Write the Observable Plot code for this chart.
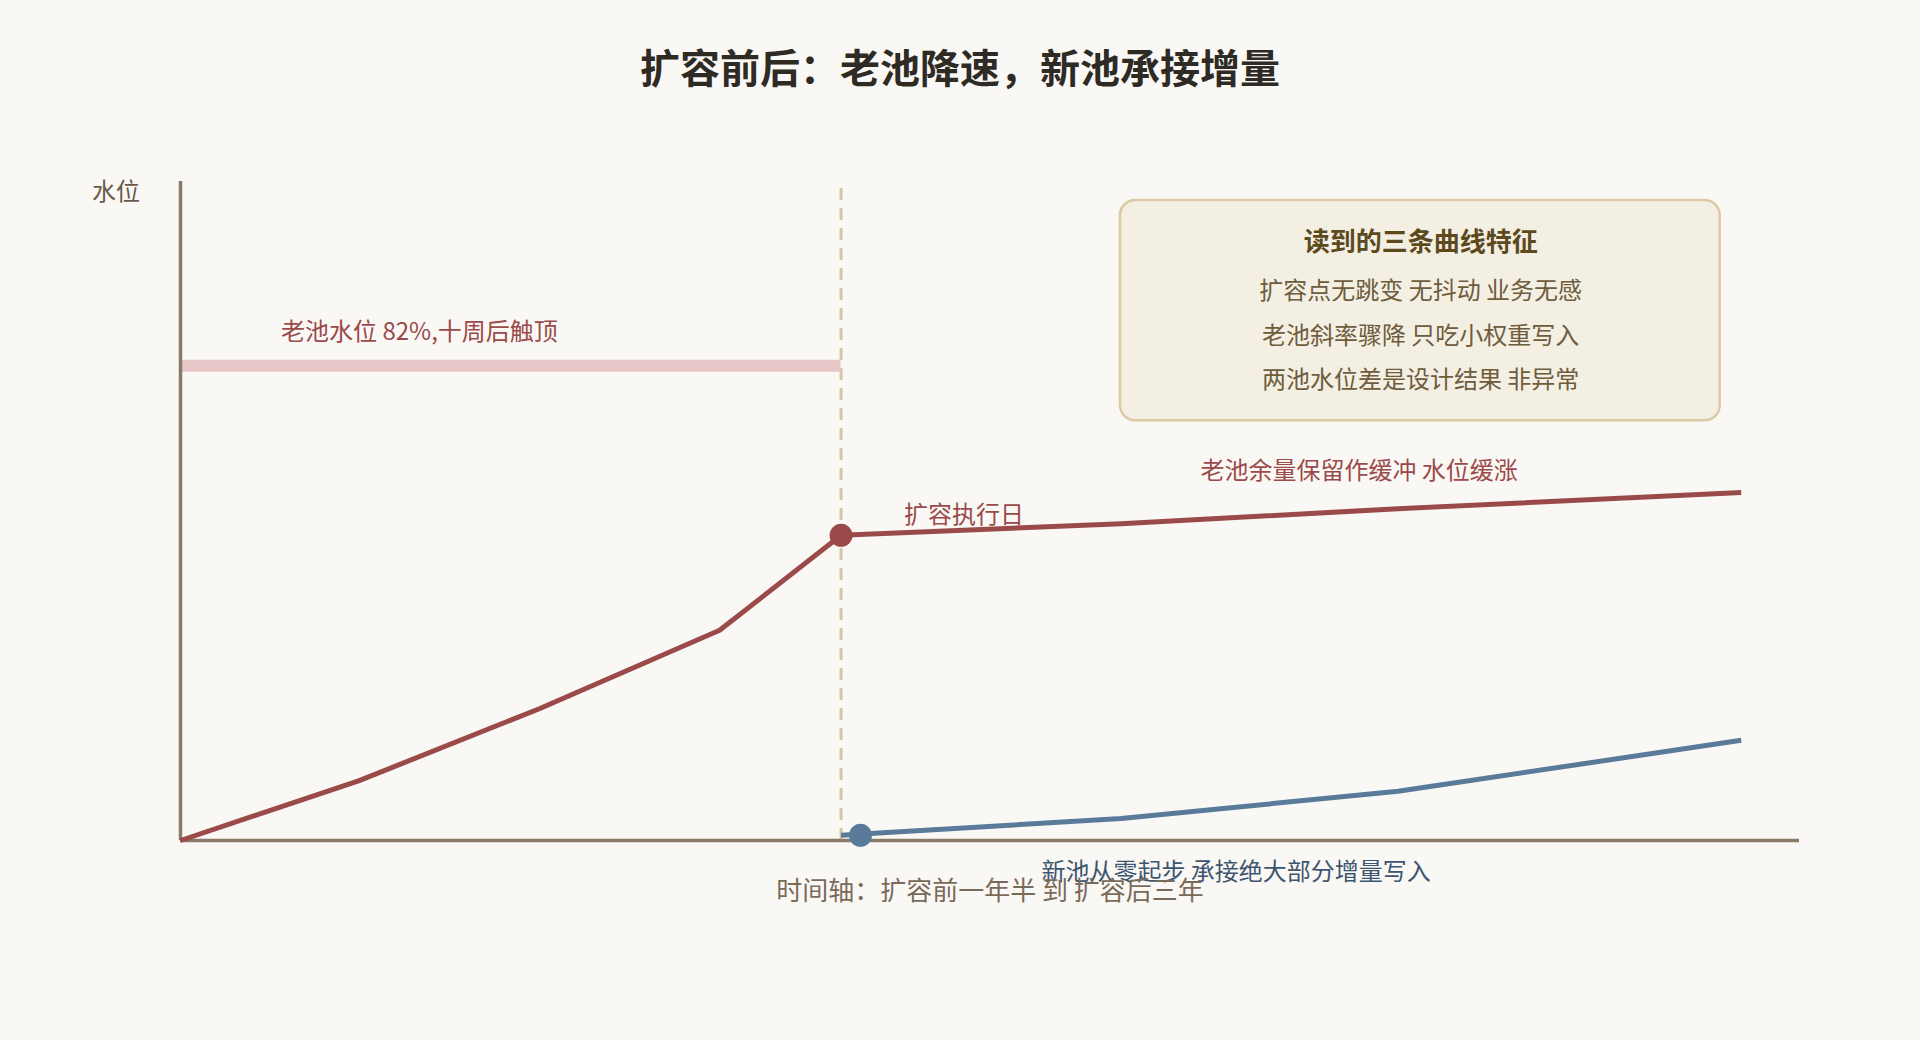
<!DOCTYPE html>
<html>
<head>
<meta charset="utf-8">
<script src="https://cdn.jsdelivr.net/npm/d3@7"></script>
<script src="https://cdn.jsdelivr.net/npm/@observablehq/plot@0.6"></script>
<style>
  html, body { margin: 0; padding: 0; background: #faf8f4; }
  body { width: 1920px; height: 1040px; overflow: hidden; font-family: "Noto Sans CJK SC", "Noto Sans", sans-serif; }
  #title { height: 130px; line-height: 132px; text-align: center; font-size: 40px; font-weight: bold; color: #2e2a24; }
  #chart svg { display: block; }
</style>
</head>
<body>
<div id="title">扩容前后：老池降速，新池承接增量</div>
<div id="chart"></div>
<script>
// ---- data (time in arbitrary units 0–100, level in %) ----
const oldPoolT = [0, 11, 22.2, 33.3, 40.8, 58.1, 75.2, 96.4];
const oldPoolV = [0, 10.3, 22.8, 36.3, 52.7, 54.7, 57.3, 60.1];
const newPoolT = [40.8, 58.1, 75.2, 96.4];
const newPoolV = [0.9, 3.8, 8.5, 17.3];
const expansionT = 40.8;
const oldLimitLevel = 82;
const newStartT = 42;

const title = "扩容前后：老池降速，新池承接增量";
const yLabel = "水位";
const xLabel = "时间轴：扩容前一年半 到 扩容后三年";
const limitLabel = "老池水位 82%,十周后触顶";
const expansionLabel = "扩容执行日";
const oldLabel = "老池余量保留作缓冲 水位缓涨";
const newLabel = "新池从零起步 承接绝大部分增量写入";
const boxTitle = "读到的三条曲线特征";
const boxLines = ["扩容点无跳变 无抖动 业务无感", "老池斜率骤降 只吃小权重写入", "两池水位差是设计结果 非异常"];

const xMax = 100, yMax = 113.8;

const oldData = oldPoolT.map((t, i) => ({t, v: oldPoolV[i]}));
const newData = newPoolT.map((t, i) => ({t, v: newPoolV[i]}));

// annotation anchors (data units)
const notes = [
  {t: -2.5, v: 111.9, text: yLabel, anchor: "end", fill: "#6b5a4a", size: 24},
  {t: 14.76, v: 87.7, text: limitLabel, anchor: "middle", fill: "#9b4a4a", size: 24},
  {t: 48.4, v: 56.1, text: expansionLabel, anchor: "middle", fill: "#9b4a4a", size: 24},
  {t: 72.8, v: 63.7, text: oldLabel, anchor: "middle", fill: "#9b4a4a", size: 24},
  {t: 65.2, v: -5.5, text: newLabel, anchor: "middle", fill: "#3d5570", size: 24},
  {t: 50, v: -8.8, text: xLabel, anchor: "middle", fill: "#7a6a5a", size: 26}
];
const box = [{t1: 58.06, t2: 95.1, v1: 72.5, v2: 110.5}];
const boxTitlePos = [{t: 76.6, v: 103.3, text: boxTitle}];
const boxLinePos = boxLines.map((s, i) => ({t: 76.6, v: [94.8, 87.1, 79.4][i], text: s}));

const fontFamily = '"Noto Sans CJK SC", "Noto Sans", sans-serif';

const chart = Plot.plot({
  width: 1920,
  height: 910,
  marginLeft: 180,
  marginRight: 121,
  marginTop: 51,
  marginBottom: 200,
  x: {domain: [0, xMax], axis: null},
  y: {domain: [0, yMax], axis: null},
  style: {background: "#faf8f4", fontFamily, overflow: "visible"},
  marks: [
    // expansion day dashed line
    Plot.ruleX([expansionT], {y1: 0, y2: yMax, stroke: "#d4c6a6", strokeWidth: 3, strokeDasharray: "12,8"}),
    // old pool 82% limit band
    Plot.ruleY([oldLimitLevel], {x1: 0, x2: expansionT, stroke: "#e8c7c8", strokeWidth: 12}),
    // axes
    Plot.ruleX([0], {y1: 0, y2: yMax, stroke: "#8a7a68", strokeWidth: 3.5}),
    Plot.ruleY([0], {x1: 0, x2: xMax, stroke: "#8a7a68", strokeWidth: 3.5}),
    // lines
    Plot.line(oldData, {x: "t", y: "v", stroke: "#9b4a4a", strokeWidth: 5, strokeLinecap: "butt", strokeLinejoin: "round"}),
    Plot.line(newData, {x: "t", y: "v", stroke: "#5a7a9a", strokeWidth: 5, strokeLinecap: "butt", strokeLinejoin: "round"}),
    // markers
    Plot.dot([{t: expansionT, v: oldPoolV[4]}], {x: "t", y: "v", r: 11.5, fill: "#9b4a4a"}),
    Plot.dot([{t: newStartT, v: newPoolV[0]}], {x: "t", y: "v", r: 11.5, fill: "#5a7a9a"}),
    // notes box
    Plot.rect(box, {x1: "t1", x2: "t2", y1: "v1", y2: "v2", fill: "#f3efe3", stroke: "#dccaa5", strokeWidth: 2.5, rx: 15}),
    Plot.text(boxTitlePos, {x: "t", y: "v", text: "text", fill: "#5c4a1e", fontSize: 26, fontWeight: "bold", lineAnchor: "middle", textAnchor: "middle"}),
    Plot.text(boxLinePos, {x: "t", y: "v", text: "text", fill: "#6e5c3c", fontSize: 24, lineAnchor: "middle", textAnchor: "middle"}),
    // annotations
    ...notes.map(n => Plot.text([n], {x: "t", y: "v", text: "text", fill: n.fill, fontSize: n.size, textAnchor: n.anchor, lineAnchor: "middle"}))
  ]
});
document.getElementById("chart").appendChild(chart);
</script>
</body>
</html>
